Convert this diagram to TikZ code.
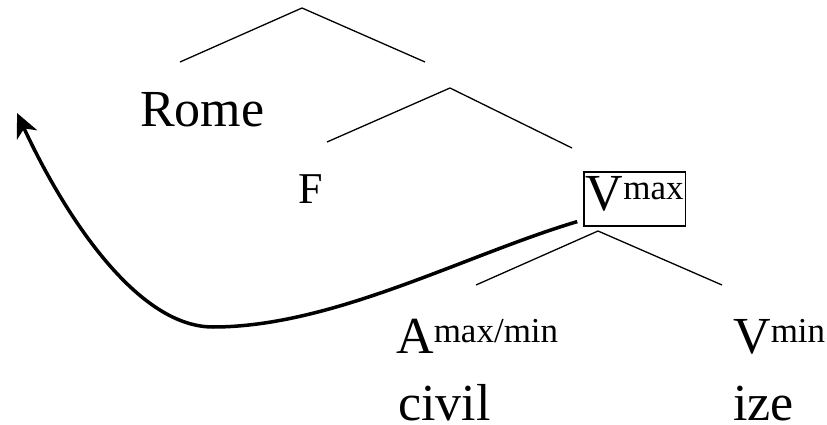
\documentclass[tikz,border=0pt]{standalone}
\usepackage{fontspec}
\setmainfont{Liberation Serif}
\usetikzlibrary{arrows.meta}
\newcommand{\hi}[1]{\raisebox{11pt}{\fontsize{35}{40}\selectfont #1}}

\begin{document}
\begin{tikzpicture}[x=1pt, y=-1pt,
  lbl/.style={anchor=base west, inner sep=0pt, font=\fontsize{52}{60}\selectfont},
  br/.style={line width=1.3pt},
  mv/.style={line width=3.5pt, -{Stealth[length=24pt, width=22pt, inset=7pt]}, shorten <=6pt}]
\useasboundingbox (0,0) rectangle (827,425);

% labels
\node[lbl](rome) at (140,127) {Rome};
\node[lbl, font=\fontsize{44}{50}\selectfont](f) at (298,203) {F};
\node[lbl, draw, line width=1.6pt, inner xsep=2pt, inner ysep=0pt](vmax) at (583,210)
  {\rule[-16pt]{0pt}{54pt}V\hi{max}};
\node[lbl](amax) at (396,353) {A\hi{max/min}};
\node[lbl](civil) at (398,420) {civil};
\node[lbl](vmin) at (733,353) {V\hi{min}};
\node[lbl](ize) at (733,420) {ize};

% branches
\coordinate (t0) at (302,8);   \coordinate (t0l) at (180,62);  \coordinate (t0r) at (425,62);
\coordinate (t1) at (450,88);  \coordinate (t1l) at (327,142); \coordinate (t1r) at (572,148);
\coordinate (t2) at (598,231); \coordinate (t2l) at (476,285); \coordinate (t2r) at (722,285);
\foreach \n in {t0,t1,t2}
  {\draw[br](\n l)--(\n)--(\n r);}

% movement
\coordinate (low) at (213,327);
\coordinate (tip) at (17,113);
\draw[mv](vmax.202) .. controls (465,255) and (333,327) .. (low)
  .. controls (133,327) and (59,204) .. (tip);

\end{tikzpicture}
\end{document}
